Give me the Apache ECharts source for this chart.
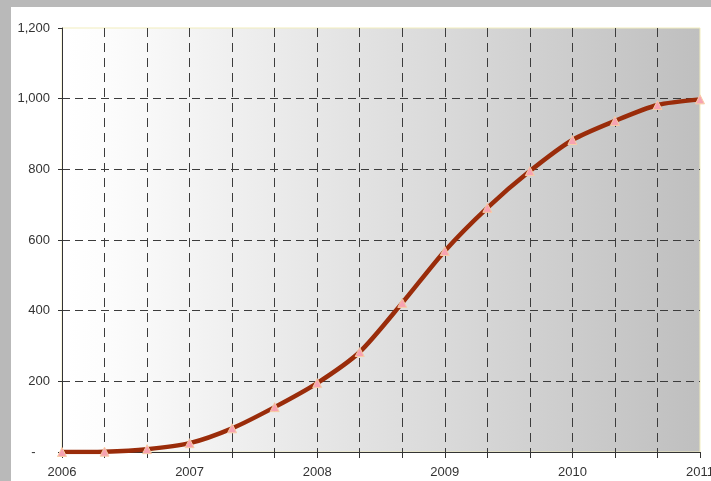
<!DOCTYPE html>
<html>
<head>
<meta charset="utf-8">
<script src="https://cdn.jsdelivr.net/npm/echarts@6/dist/echarts.min.js"></script>
<style>
  html, body { margin: 0; padding: 0; width: 711px; height: 481px; background: #b9b9b9; overflow: hidden; }
  #chart { position: absolute; left: 11px; top: 7px; width: 700px; height: 474px; background: #ffffff; }
</style>
</head>
<body>
<div id="chart"></div>
<script>
// Periods, every four months from Jan 2006 to Jan 2011
const periods = [
  '2006-01', '2006-05', '2006-09',
  '2007-01', '2007-05', '2007-09',
  '2008-01', '2008-05', '2008-09',
  '2009-01', '2009-05', '2009-09',
  '2010-01', '2010-05', '2010-09',
  '2011-01'
];
// Cumulative values at each period
const values = [0, 1, 8, 25, 67, 127, 195, 283, 422, 569, 691, 795, 883, 937, 982, 998];
// Value axis range
const yMin = 0, yMax = 1200, yStep = 200;

const chart = echarts.init(document.getElementById('chart'), null, { renderer: 'canvas' });

const labelFont = { fontFamily: '"Liberation Sans", Arial, sans-serif', fontSize: 13, color: '#333333' };

chart.setOption({
  animation: false,
  grid: {
    left: 51, right: 11, top: 21, bottom: 29,
    outerBoundsMode: 'none',
    containLabel: false,
    show: true,
    borderColor: '#f1edbd',
    borderWidth: 1,
    backgroundColor: new echarts.graphic.LinearGradient(0, 0, 1, 0, [
      { offset: 0, color: '#ffffff' },
      { offset: 0.06, color: '#fdfdfd' },
      { offset: 1, color: '#bfbfbf' }
    ])
  },
  xAxis: {
    type: 'category',
    data: periods,
    boundaryGap: false,
    axisLine: { show: true, lineStyle: { color: '#333333', width: 1 } },
    axisTick: { show: true, interval: 0, length: 6, lineStyle: { color: '#333333' } },
    axisLabel: Object.assign({
      interval: 0,
      margin: 14,
      formatter: v => v.endsWith('-01') ? v.slice(0, 4) : ''
    }, labelFont),
    splitLine: {
      show: true,
      interval: 0,
      showMinLine: false,
      showMaxLine: false,
      lineStyle: { color: '#3c3c3c', width: 1, type: [9, 6] }
    }
  },
  yAxis: {
    type: 'value',
    min: yMin, max: yMax, interval: yStep,
    axisLine: { show: true, lineStyle: { color: '#333333', width: 1 } },
    axisTick: { show: true, length: 4, lineStyle: { color: '#333333' } },
    axisLabel: Object.assign({
      margin: 12,
      formatter: v => v === 0 ? '-    ' : v.toLocaleString('en-US')
    }, labelFont),
    splitLine: {
      show: true,
      showMinLine: false,
      showMaxLine: false,
      lineStyle: { color: '#3c3c3c', width: 1, type: [8, 5] }
    }
  },
  series: [{
    type: 'line',
    data: values,
    smooth: 0.25,
    symbol: 'triangle',
    symbolSize: 9,
    showAllSymbol: true,
    lineStyle: { color: '#9a2c0a', width: 4.5 },
    itemStyle: { color: '#f7a2b2', borderColor: '#f8cda5', borderWidth: 1 },
    z: 5
  }]
});
</script>
</body>
</html>
